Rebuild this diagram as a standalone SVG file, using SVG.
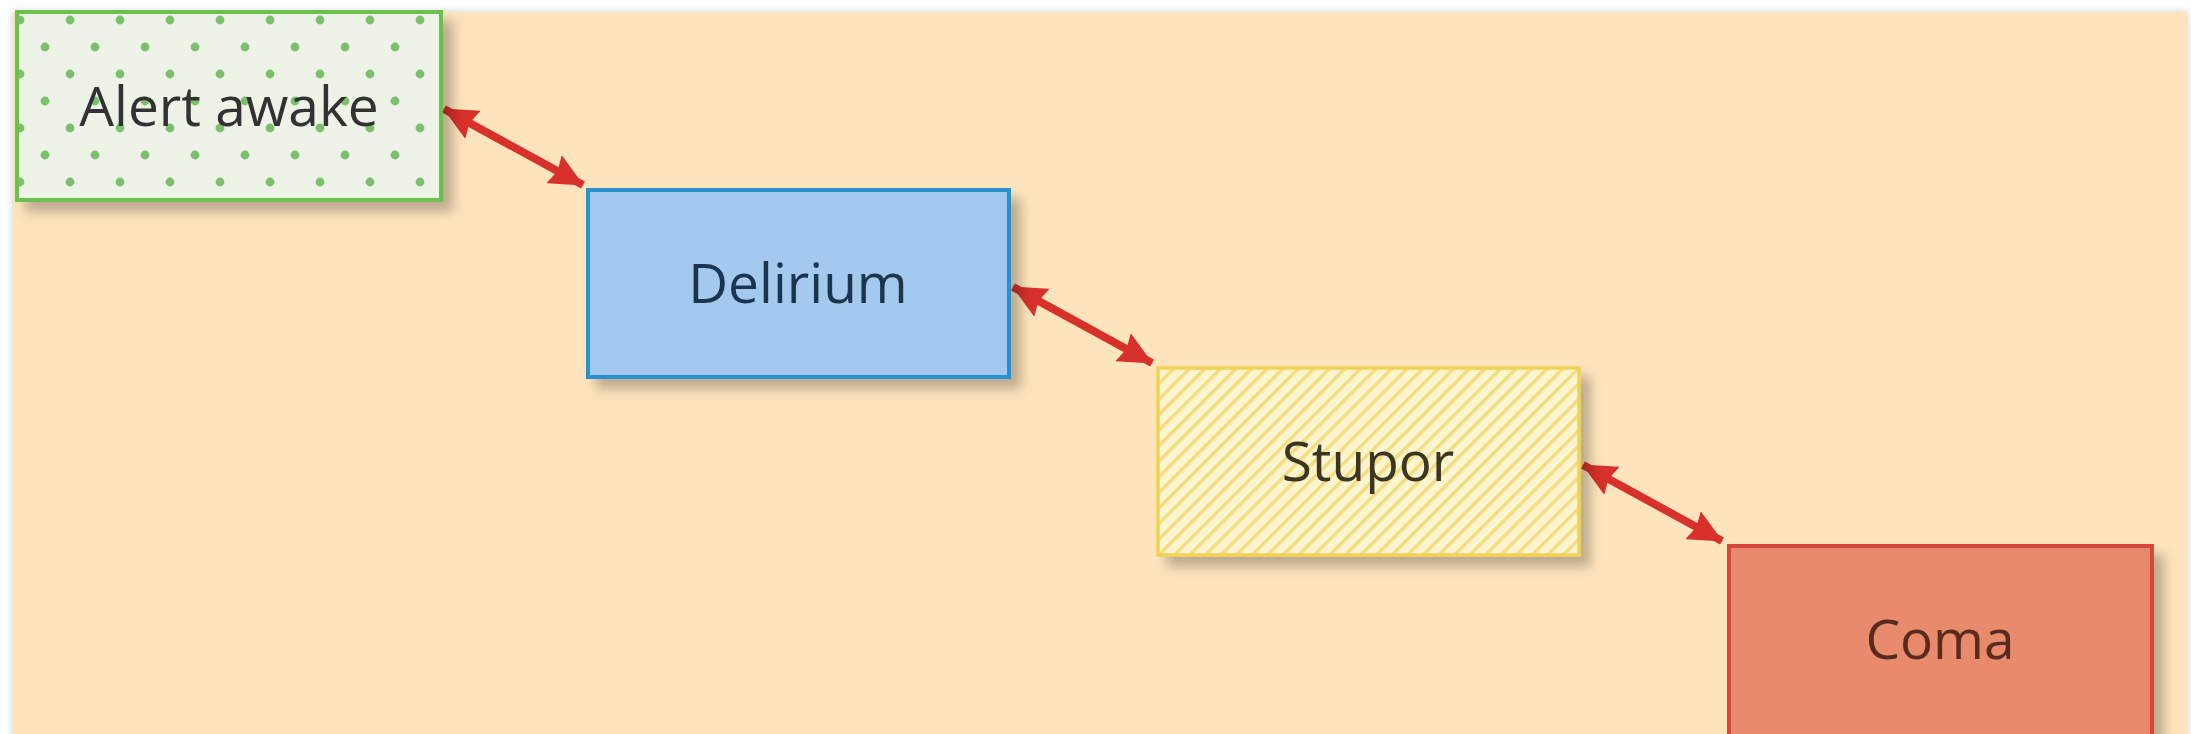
<svg xmlns="http://www.w3.org/2000/svg" width="2191" height="734" viewBox="0 0 2191 734">
  <defs>
    <style>
      .lbl { font-family: "Open Sans", "Noto Sans", "Liberation Sans", sans-serif; font-size: 55px; text-anchor: middle; dominant-baseline: central; }
      .conn { stroke: #D8302A; stroke-width: 8; fill: none; marker-start: url(#ah); marker-end: url(#ah); }
    </style>
    <filter id="sh" x="-10%" y="-10%" width="130%" height="140%">
      <feGaussianBlur in="SourceAlpha" stdDeviation="6"/>
      <feOffset dx="10" dy="10" result="b"/>
      <feComponentTransfer><feFuncA type="linear" slope="0.25"/></feComponentTransfer>
      <feMerge><feMergeNode/><feMergeNode in="SourceGraphic"/></feMerge>
    </filter>
    <filter id="panelsh" x="-5%" y="-5%" width="110%" height="110%">
      <feGaussianBlur in="SourceAlpha" stdDeviation="4"/>
      <feComponentTransfer><feFuncA type="linear" slope="0.2"/></feComponentTransfer>
      <feMerge><feMergeNode/><feMergeNode in="SourceGraphic"/></feMerge>
    </filter>
    <pattern id="dots" width="50" height="54" patternUnits="userSpaceOnUse" x="8" y="8">
      <rect width="50" height="54" fill="#EEF3E7"/>
      <circle cx="12" cy="12" r="4.4" fill="#7CBF6C"/>
      <circle cx="37" cy="39" r="4.4" fill="#7CBF6C"/>
    </pattern>
    <pattern id="hatch" width="11" height="11" patternUnits="userSpaceOnUse" patternTransform="rotate(45)">
      <rect width="11" height="11" fill="#FDF5CF"/>
      <rect x="0" y="0" width="3.5" height="11" fill="#F2DE80"/>
    </pattern>
    <marker id="ah" viewBox="0 0 34 32" refX="33" refY="16" markerWidth="34" markerHeight="32" markerUnits="userSpaceOnUse" orient="auto-start-reverse">
      <path d="M0,0 L34,16 L0,32 L4,16 z" fill="#D8302A"/>
    </marker>
  </defs>

  <rect width="2191" height="734" fill="#FFFFFF"/>
  <rect x="13" y="12" width="2174" height="740" fill="#FDE4BD" filter="url(#panelsh)"/>

  <g id="connectors">
    <line class="conn" x1="444" y1="109" x2="583" y2="185"/>
    <line class="conn" x1="1013" y1="287" x2="1152" y2="363"/>
    <line class="conn" x1="1583" y1="465" x2="1722" y2="541"/>
  </g>

  <g id="node-alert" filter="url(#sh)">
    <rect x="17" y="12" width="424" height="188" fill="url(#dots)" stroke="#6CC04E" stroke-width="4"/>
    <text class="lbl" x="229" y="104" fill="#333333">Alert awake</text>
  </g>

  <g id="node-delirium" filter="url(#sh)">
    <rect x="588" y="190" width="421" height="187" fill="#A3C9EE" stroke="#2990D0" stroke-width="4"/>
    <text class="lbl" x="798" y="281" fill="#1E3450">Delirium</text>
  </g>

  <g id="node-stupor" filter="url(#sh)">
    <rect x="1158" y="368" width="421" height="187" fill="url(#hatch)" stroke="#F0D255" stroke-width="3.5"/>
    <text class="lbl" x="1368" y="459" fill="#3A3522">Stupor</text>
  </g>

  <g id="node-coma" filter="url(#sh)">
    <rect x="1729" y="546" width="423" height="190" fill="#E88A6C" stroke="#D9453A" stroke-width="4"/>
    <text class="lbl" x="1940" y="637" fill="#5A2A1C">Coma</text>
  </g>
</svg>
